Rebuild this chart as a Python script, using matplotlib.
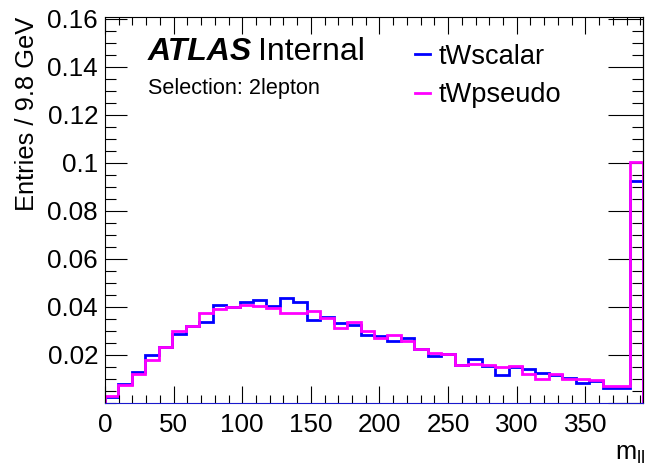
import numpy as np
import matplotlib.pyplot as plt
from matplotlib.lines import Line2D
from matplotlib.ticker import MultipleLocator, FormatStrFormatter

plt.rcParams['font.family'] = ['Liberation Sans', 'DejaVu Sans']
plt.rcParams['mathtext.fontset'] = 'custom'
plt.rcParams['mathtext.rm'] = 'Liberation Sans'
plt.rcParams['mathtext.it'] = 'Liberation Sans:italic'

# m_ll histogram, 40 bins of 9.8 GeV (last bin holds the overflow)
bin_width = 9.8
n_bins = 40
edges = np.arange(n_bins + 1) * bin_width

tWscalar = [0.0024, 0.0080, 0.0128, 0.0199, 0.0232, 0.0288, 0.0320, 0.0336, 0.0410, 0.0400,
            0.0422, 0.0429, 0.0405, 0.0439, 0.0422, 0.0347, 0.0357, 0.0332, 0.0325, 0.0282,
            0.0280, 0.0258, 0.0270, 0.0223, 0.0195, 0.0203, 0.0157, 0.0182, 0.0156, 0.0117,
            0.0151, 0.0140, 0.0124, 0.0117, 0.0103, 0.0085, 0.0090, 0.0064, 0.0061, 0.0925]
tWpseudo = [0.0028, 0.0075, 0.0120, 0.0180, 0.0232, 0.0301, 0.0320, 0.0375, 0.0390, 0.0400,
            0.0408, 0.0405, 0.0395, 0.0376, 0.0376, 0.0383, 0.0353, 0.0314, 0.0338, 0.0299,
            0.0272, 0.0283, 0.0258, 0.0227, 0.0207, 0.0203, 0.0159, 0.0163, 0.0160, 0.0150,
            0.0153, 0.0121, 0.0099, 0.0122, 0.0100, 0.0099, 0.0096, 0.0072, 0.0072, 0.1005]

fig = plt.figure(figsize=(6.47, 4.66), dpi=100)
ax = fig.add_axes([105/647, 1 - 403/466, 538/647, 386/466])

ax.stairs(tWscalar, edges, color='#0000ff', lw=2.0, label='tWscalar')
ax.stairs(tWpseudo, edges, color='#ff00ff', lw=2.0, label='tWpseudo')

ax.set_xlim(0, edges[-1])
ax.set_ylim(0, 0.1608)

ax.xaxis.set_major_locator(MultipleLocator(50))
ax.xaxis.set_minor_locator(MultipleLocator(10))
ax.yaxis.set_major_locator(MultipleLocator(0.02))
ax.yaxis.set_minor_locator(MultipleLocator(0.005))
ax.yaxis.set_major_formatter(FormatStrFormatter('%g'))
ax.set_yticks(np.arange(0.02, 0.161, 0.02))

ax.tick_params(axis='x', which='major', direction='in', top=True, length=12, width=0.8,
               labelsize=18.7, pad=7)
ax.tick_params(axis='x', which='minor', direction='in', top=True, length=6, width=0.8)
ax.tick_params(axis='y', which='major', direction='in', length=16, width=0.8,
               labelsize=18.7, pad=5)
ax.tick_params(axis='y', which='minor', direction='in', length=8, width=0.8)

# right hand axis has its own tick lengths
sec = ax.secondary_yaxis('right')
sec.yaxis.set_major_locator(MultipleLocator(0.02))
sec.yaxis.set_minor_locator(MultipleLocator(0.005))
sec.tick_params(axis='y', which='major', direction='in', length=25, width=0.8, labelright=False)
sec.tick_params(axis='y', which='minor', direction='in', length=8, width=0.8)

for s in ax.spines.values():
    s.set_linewidth(0.8)
ax.spines['bottom'].set_color('#1a1acc')

ax.set_ylabel('Entries / 9.8 GeV', fontsize=18.4, loc='top')
ax.yaxis.set_label_coords(-0.123, 1.0)
ax.set_xlabel(r'm$_{\rm ll}$', fontsize=18.4, loc='right')
ax.xaxis.set_label_coords(1.005, -0.1)

fig.text(148/647, 1 - 60/466, 'ATLAS', fontsize=23, fontweight='bold', fontstyle='italic',
         va='baseline')
fig.text(258/647, 1 - 60/466, 'Internal', fontsize=23, va='baseline')
fig.text(148/647, 1 - 94/466, 'Selection: 2lepton', fontsize=15.6, va='baseline')

handles = [Line2D([], [], color='#0000ff', lw=2.0), Line2D([], [], color='#ff00ff', lw=2.0)]
ax.legend(handles, ['tWscalar', 'tWpseudo'], loc='upper left', frameon=False,
          bbox_to_anchor=(415/647, 1 - 44/466), bbox_transform=fig.transFigure,
          fontsize=19.6, handlelength=0.56, handletextpad=0.3, labelspacing=0.45,
          borderpad=0, borderaxespad=0)

fig.savefig('out.png', dpi=100)
